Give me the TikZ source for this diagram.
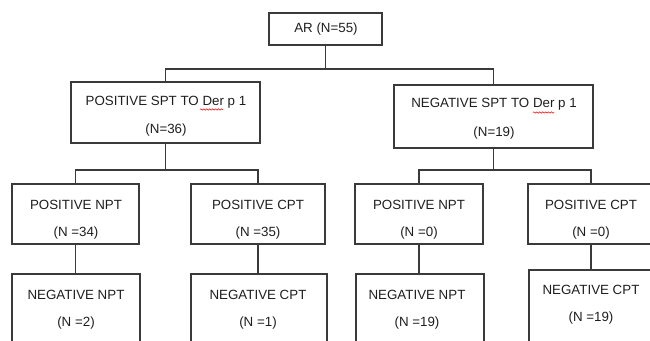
\documentclass[tikz,border=0pt]{standalone}
\usepackage{fontspec}
\setmainfont{Liberation Sans}
\usetikzlibrary{fit,decorations.pathmorphing}
\definecolor{linegray}{HTML}{3A3A3A}
\definecolor{txt}{HTML}{1E1E1E}
\begin{document}
\begin{tikzpicture}[x=0.75pt,y=-0.75pt,
  box/.style={draw=linegray, line width=0.8pt, inner sep=0pt},
  lbl/.style={font=\fontsize{10}{12}\selectfont, text=txt, inner sep=0pt},
  link/.style={draw=linegray, line width=0.8pt},
  squiggle/.style={draw=red, line width=0.4pt, decorate, decoration={snake, amplitude=0.5pt, segment length=2.2pt}}]
\useasboundingbox (0,0) rectangle (650,341);
\clip (0,0) rectangle (650,341);
% boxes
\node[box, fit={(269,13) (382,45)}] (ar) {};
\node[box, fit={(71,82) (260,143)}] (pos) {};
\node[box, fit={(394,85) (593,148)}] (neg) {};
\node[box, fit={(12,184) (139,244)}] (pnptL) {};
\node[box, fit={(191,184) (325,244)}] (pcptL) {};
\node[box, fit={(12,274) (140,360)}] (nnptL) {};
\node[box, fit={(191,274) (327,360)}] (ncptL) {};
\node[box, fit={(355,184) (483,244)}] (pnptR) {};
\node[box, fit={(528,184) (654,244)}] (pcptR) {};
\node[box, fit={(356,274) (484,360)}] (nnptR) {};
\node[box, fit={(529,270) (654,360)}] (ncptR) {};
% connectors
\coordinate (bar1) at (326,69);
\coordinate (bar2) at (166,170);
\coordinate (bar3) at (494,170);
\draw[link] (ar.south) -- (ar.south |- bar1);
\draw[link] (pos.north) |- (bar1) -| (neg.north);
\draw[link] (pos.south) -- (pos.south |- bar2);
\draw[link] (pnptL.north) |- (bar2) -| (pcptL.north);
\draw[link] (neg.south) -- (neg.south |- bar3);
\draw[link] (pnptR.north) |- (bar3) -| (pcptR.north);
\draw[link] (pnptL.south) -- (pnptL.south |- nnptL.north);
\draw[link] (pcptL.south) -- (pcptL.south |- ncptL.north);
\draw[link] (pnptR.south) -- (pnptR.south |- nnptR.north);
\draw[link] (pcptR.south) -- (pcptR.south |- ncptR.north);
% texts
\node[lbl] (arT) at (326,29) {AR (N=55)};
\node[lbl] (posT1) at (166,102) {POSITIVE SPT TO Der p 1};
\node[lbl] (posT2) at (166,130) {(N=36)};
\node[lbl] (negT1) at (494,104) {NEGATIVE SPT TO Der p 1};
\node[lbl] (negT2) at (494,133) {(N=19)};
\node[lbl] (pnptLT1) at (76,205) {POSITIVE NPT};
\node[lbl] (pnptLT2) at (76,233) {(N =34)};
\node[lbl] (pcptLT1) at (258,205) {POSITIVE CPT};
\node[lbl] (pcptLT2) at (258,233) {(N =35)};
\node[lbl] (pnptRT1) at (419,205) {POSITIVE NPT};
\node[lbl] (pnptRT2) at (419,233) {(N =0)};
\node[lbl] (pcptRT1) at (591,205) {POSITIVE CPT};
\node[lbl] (pcptRT2) at (591,233) {(N =0)};
\node[lbl] (nnptLT1) at (76,295) {NEGATIVE NPT};
\node[lbl] (nnptLT2) at (76,323) {(N =2)};
\node[lbl] (ncptLT1) at (258,295) {NEGATIVE CPT};
\node[lbl] (ncptLT2) at (258,323) {(N =1)};
\node[lbl] (nnptRT1) at (417,295) {NEGATIVE NPT};
\node[lbl] (nnptRT2) at (417,323) {(N =19)};
\node[lbl] (ncptRT1) at (591,290) {NEGATIVE CPT};
\node[lbl] (ncptRT2) at (591,318) {(N =19)};
% spell-check squiggles under "Der"
\draw[squiggle] (200,109.5) -- (223,109.5);
\draw[squiggle] (533,112.5) -- (554,112.5);
\end{tikzpicture}
\end{document}
